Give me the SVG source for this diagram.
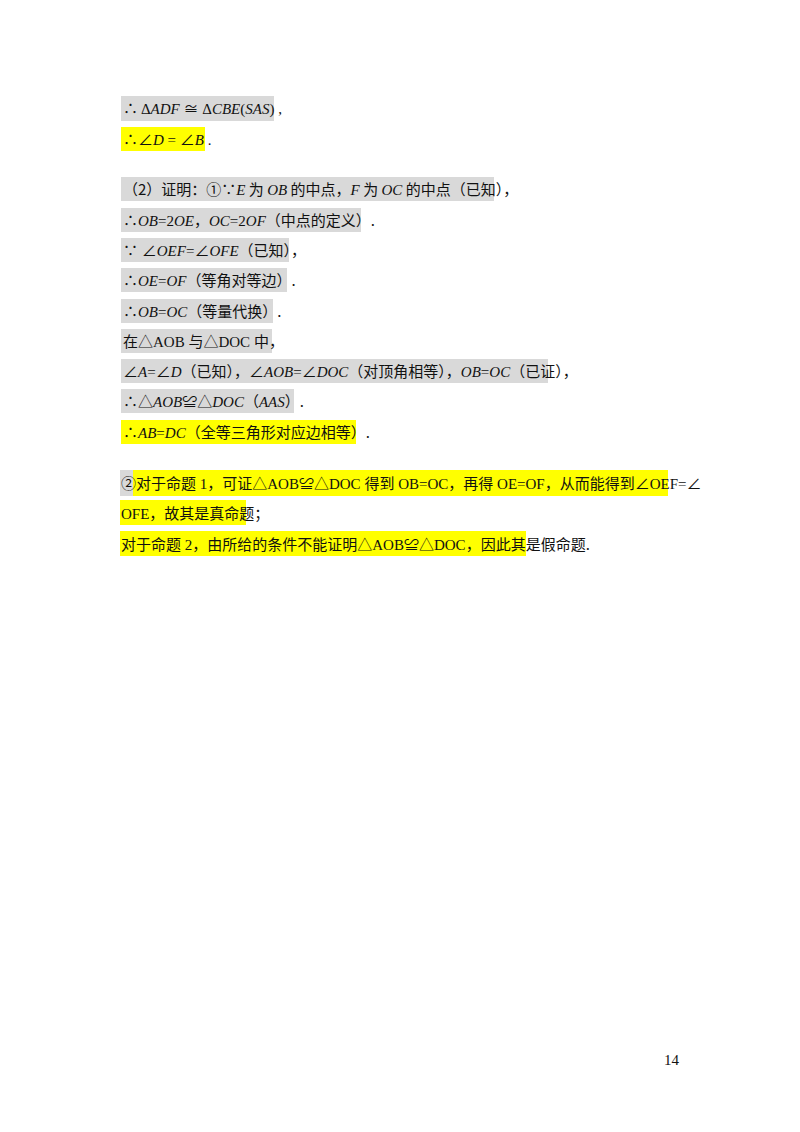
<svg xmlns="http://www.w3.org/2000/svg" width="800" height="1132" viewBox="0 0 800 1132">
<style>
.g{fill:#d9d9d9}.y{fill:#ffff00}
text{font-family:"Liberation Serif","Noto Sans CJK SC",serif;font-size:15px;fill:#111}
.i{font-style:italic}
.c{font-family:"Noto Sans CJK SC","Liberation Sans",sans-serif}
</style>
<rect width="800" height="1132" fill="#fff"/>
<g id="bg">
<rect class="g" x="121" y="96" width="153" height="25"/>
<rect class="y" x="121" y="127" width="84" height="24"/>
<rect class="g" x="121" y="177" width="373" height="24"/>
<rect class="g" x="121" y="208" width="240" height="24"/>
<rect class="g" x="121" y="238" width="168" height="24"/>
<rect class="g" x="121" y="268" width="166" height="24"/>
<rect class="g" x="121" y="299" width="152" height="24"/>
<rect class="g" x="121" y="329" width="151" height="24"/>
<rect class="g" x="121" y="359" width="427" height="24"/>
<rect class="g" x="121" y="389" width="173" height="24"/>
<rect class="y" x="121" y="420" width="235" height="24"/>
<rect class="g" x="120" y="470" width="13" height="26"/>
<rect class="y" x="133" y="470" width="535" height="26"/>
<rect class="y" x="120" y="500" width="126" height="25"/>
<rect class="y" x="120" y="531" width="406" height="25"/>
</g>
<g id="text">
<text x="123" y="114">∴ Δ<tspan class="i">ADF</tspan> ≅ Δ<tspan class="i">CBE</tspan>(<tspan class="i">SAS</tspan>) ,</text>
<text x="123" y="145">∴∠<tspan class="i">D</tspan> = ∠<tspan class="i">B</tspan> .</text>
<text x="123" y="195"><tspan class="c">（2）证明：①∵</tspan><tspan class="i">E</tspan><tspan class="c"> 为 </tspan><tspan class="i">OB</tspan><tspan class="c"> 的中点，</tspan><tspan class="i">F</tspan><tspan class="c"> 为 </tspan><tspan class="i">OC</tspan><tspan class="c"> 的中点（已知），</tspan></text>
<text x="123" y="226"><tspan class="c">∴</tspan><tspan class="i">OB</tspan>=2<tspan class="i">OE</tspan><tspan class="c">，</tspan><tspan class="i">OC</tspan>=2<tspan class="i">OF</tspan><tspan class="c">（中点的定义）.</tspan></text>
<text x="123" y="256"><tspan class="c">∵</tspan> ∠<tspan class="i">OEF</tspan>=∠<tspan class="i">OFE</tspan><tspan class="c">（已知），</tspan></text>
<text x="123" y="286"><tspan class="c">∴</tspan><tspan class="i">OE</tspan>=<tspan class="i">OF</tspan><tspan class="c">（等角对等边）.</tspan></text>
<text x="123" y="317"><tspan class="c">∴</tspan><tspan class="i">OB</tspan>=<tspan class="i">OC</tspan><tspan class="c">（等量代换）.</tspan></text>
<text x="123" y="347"><tspan class="c">在</tspan>△AOB <tspan class="c">与</tspan>△DOC <tspan class="c">中，</tspan></text>
<text x="123" y="377">∠<tspan class="i">A</tspan>=∠<tspan class="i">D</tspan><tspan class="c">（已知），</tspan>∠<tspan class="i">AOB</tspan>=∠<tspan class="i">DOC</tspan><tspan class="c">（对顶角相等），</tspan><tspan class="i">OB</tspan>=<tspan class="i">OC</tspan><tspan class="c">（已证），</tspan></text>
<text x="123" y="407"><tspan class="c">∴</tspan>△<tspan class="i">AOB</tspan>≌△<tspan class="i">DOC</tspan><tspan class="c">（</tspan><tspan class="i">AAS</tspan><tspan class="c">）.</tspan></text>
<text x="123" y="438"><tspan class="c">∴</tspan><tspan class="i">AB</tspan>=<tspan class="i">DC</tspan><tspan class="c">（全等三角形对应边相等）.</tspan></text>
<text x="121" y="489"><tspan class="c">②对于命题</tspan> 1<tspan class="c">，可证</tspan>△AOB≌△DOC <tspan class="c">得到</tspan> OB=OC<tspan class="c">，再得</tspan> OE=OF<tspan class="c">，从而能得到</tspan>∠OEF=∠</text>
<text x="121" y="519">OFE<tspan class="c">，故其是真命题；</tspan></text>
<text x="121" y="550"><tspan class="c">对于命题</tspan> 2<tspan class="c">，由所给的条件不能证明</tspan>△AOB≌△DOC<tspan class="c">，因此其是假命题.</tspan></text>
<text x="664" y="1065" font-size="14">14</text>
</g>
</svg>
